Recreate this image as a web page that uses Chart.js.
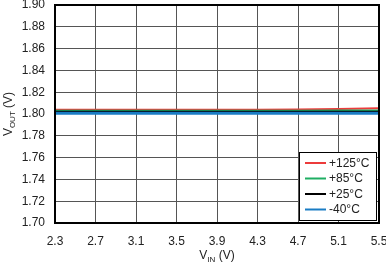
<!DOCTYPE html>
<html>
<head>
<meta charset="utf-8">
<script src="https://cdn.jsdelivr.net/npm/chart.js@4"></script>
<style>
  html, body { margin: 0; padding: 0; background: #fff; }
  #wrap { width: 386px; height: 263px; }
</style>
</head>
<body>
<div id="wrap"><canvas id="chart" width="386" height="263"></canvas></div>
<script>
const vin = [2.3, 2.7, 3.1, 3.5, 3.9, 4.3, 4.7, 5.1, 5.5];
const vout125 = [1.8040, 1.8040, 1.8039, 1.8039, 1.8039, 1.8040, 1.8042, 1.8046, 1.8052];
const vout85 = [1.8030, 1.8030, 1.8030, 1.8029, 1.8029, 1.8030, 1.8030, 1.8031, 1.8032];
const vout25 = [1.8020, 1.8020, 1.8020, 1.8020, 1.8020, 1.8020, 1.8020, 1.8020, 1.8021];
const voutM40 = [1.8006, 1.8006, 1.8006, 1.8006, 1.8006, 1.8006, 1.8006, 1.8006, 1.8006];
const seriesNames = ['+125°C', '+85°C', '+25°C', '-40°C'];
const xTicks = [2.3, 2.7, 3.1, 3.5, 3.9, 4.3, 4.7, 5.1, 5.5];
const yTicks = [1.70, 1.72, 1.74, 1.76, 1.78, 1.80, 1.82, 1.84, 1.86, 1.88, 1.90];

const FONT = 'Liberation Sans, Arial, sans-serif';
const colors = ['#ec3b3b', '#1fae63', '#000000', '#1a7cc4'];
const widths = [2, 2, 2, 3];
const allSeries = [vout125, vout85, vout25, voutM40];

const datasets = allSeries.map((s, i) => ({
    label: seriesNames[i],
    data: vin.map((x, k) => ({ x: x, y: s[k] })),
    borderColor: colors[i],
    backgroundColor: colors[i],
    borderWidth: widths[i],
    pointRadius: 0,
    tension: 0,
    order: 4 - i
}));

// axis titles with subscripts and the boxed legend
const decorations = {
    id: 'decorations',
    afterDraw(chart) {
        const ctx = chart.ctx;
        const area = chart.chartArea;
        ctx.save();
        ctx.fillStyle = '#222';
        ctx.textBaseline = 'middle';

        function subText(parts, x, y) {
            // parts: [main, sub, rest]
            ctx.font = '12px ' + FONT;
            const w1 = ctx.measureText(parts[0]).width;
            const w3 = ctx.measureText(parts[2]).width;
            ctx.font = '8px ' + FONT;
            const w2 = ctx.measureText(parts[1]).width;
            let cx = x - (w1 + w2 + w3) / 2;
            ctx.textAlign = 'left';
            ctx.font = '12px ' + FONT;
            ctx.fillText(parts[0], cx, y);
            cx += w1;
            ctx.font = '8px ' + FONT;
            ctx.fillText(parts[1], cx, y + 4);
            cx += w2;
            ctx.font = '12px ' + FONT;
            ctx.fillText(parts[2], cx, y);
        }

        subText(['V', 'IN', ' (V)'], (area.left + area.right) / 2, 256);

        ctx.save();
        ctx.translate(9, (area.top + area.bottom) / 2);
        ctx.rotate(-Math.PI / 2);
        subText(['V', 'OUT', ' (V)'], 0, 0);
        ctx.restore();

        // legend box
        const bx = 299, by = 152, bw = 77, bh = 68;
        ctx.fillStyle = '#fff';
        ctx.fillRect(bx, by, bw, bh);
        ctx.strokeStyle = '#000';
        ctx.lineWidth = 1;
        ctx.strokeRect(bx + 0.5, by + 0.5, bw, bh);
        ctx.font = '12px ' + FONT;
        ctx.textAlign = 'left';
        chart.data.datasets.forEach((ds, i) => {
            const y = 163 + i * 15.5;
            ctx.strokeStyle = ds.borderColor;
            ctx.lineWidth = 2;
            ctx.beginPath();
            ctx.moveTo(305, y);
            ctx.lineTo(326, y);
            ctx.stroke();
            ctx.fillStyle = '#222';
            ctx.fillText(ds.label, 329, y + 0.5);
        });
        ctx.restore();
    }
};

new Chart(document.getElementById('chart'), {
    type: 'line',
    data: { datasets: datasets },
    options: {
        responsive: false,
        animation: false,
        layout: { padding: { top: 5, right: 7, left: 0, bottom: 0 } },
        plugins: {
            legend: { display: false },
            tooltip: { enabled: false }
        },
        scales: {
            x: {
                type: 'linear',
                min: 2.3,
                max: 5.5,
                afterBuildTicks: axis => { axis.ticks = xTicks.map(v => ({ value: v })); },
                afterFit: axis => {
                    axis.height = 40;
                    axis.paddingLeft = 0;
                    axis.paddingRight = 0;
                },
                grid: { color: '#555', lineWidth: 1, drawTicks: false },
                border: { color: '#000', width: 2 },
                ticks: {
                    padding: 11,
                    color: '#222',
                    maxRotation: 0,
                    font: { family: FONT, size: 12 },
                    callback: v => Number(v).toFixed(1)
                }
            },
            y: {
                type: 'linear',
                min: 1.70,
                max: 1.90,
                afterBuildTicks: axis => { axis.ticks = yTicks.map(v => ({ value: v })); },
                afterFit: axis => {
                    axis.width = 55;
                    axis.paddingTop = 0;
                    axis.paddingBottom = 0;
                },
                grid: { color: '#555', lineWidth: 1, drawTicks: false },
                border: { color: '#000', width: 2 },
                ticks: {
                    padding: 10,
                    color: '#222',
                    font: { family: FONT, size: 12 },
                    callback: v => Number(v).toFixed(2)
                }
            }
        }
    },
    plugins: [decorations, {
        id: 'frame',
        afterDatasetsDraw(chart) {
            const a = chart.chartArea;
            const ctx = chart.ctx;
            ctx.save();
            ctx.strokeStyle = '#000';
            ctx.lineWidth = 2;
            ctx.strokeRect(a.left, a.top, a.right - a.left, a.bottom - a.top);
            ctx.restore();
        }
    }]
});
</script>
</body>
</html>
